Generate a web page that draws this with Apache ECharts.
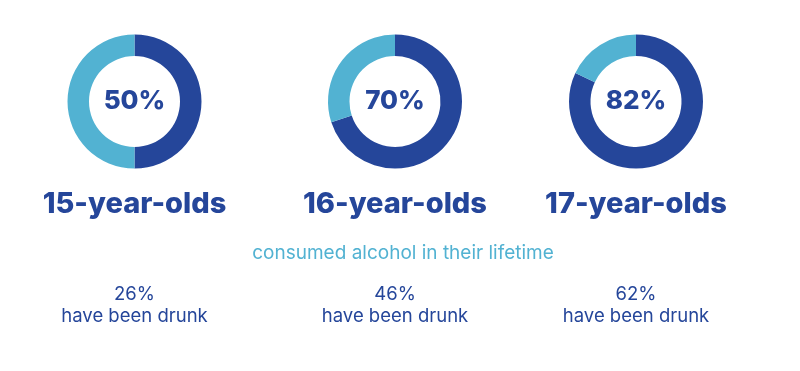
<!DOCTYPE html>
<html><head><meta charset="utf-8">
<script src="https://cdn.jsdelivr.net/npm/echarts@6/dist/echarts.min.js"></script>
<style>html,body{margin:0;padding:0;background:#fff}#c{width:800px;height:371px}</style>
</head><body><div id="c"></div>
<script>
const groups = ['15-year-olds', '16-year-olds', '17-year-olds'];
const consumedPct = [50, 70, 82];
const drunkPct = [26, 46, 62];
const subtitle = 'consumed alcohol in their lifetime';
const drunkText = 'have been drunk';

const DARK = '#25469A';
const LIGHT = '#52B2D2';
const FONT = 'Inter';
const centersX = [134.5, 395, 636];
const cy = 101.5;

const chart = echarts.init(document.getElementById('c'), null, {renderer: 'canvas'});
const series = groups.map((g, i) => ({
  type: 'pie',
  center: [centersX[i], cy],
  radius: [45.5, 67],
  startAngle: 90,
  clockwise: true,
  silent: true,
  animation: false,
  emphasis: {disabled: true},
  label: {show: false},
  labelLine: {show: false},
  data: [
    {value: consumedPct[i], itemStyle: {color: DARK},
     label: {show: true, position: 'center', formatter: consumedPct[i] + '%',
       fontFamily: FONT, fontWeight: 800, fontSize: 26, color: DARK}},
    {value: 100 - consumedPct[i], itemStyle: {color: LIGHT}}
  ]
}));

const graphics = [];
groups.forEach((g, i) => {
  graphics.push({type: 'text', x: centersX[i], y: 204, style: {text: g, fill: DARK,
    font: '800 29px ' + FONT, align: 'center', verticalAlign: 'middle'}});
  graphics.push({type: 'text', x: centersX[i], y: 294, style: {text: drunkPct[i] + '%', fill: DARK,
    font: '400 18.5px ' + FONT, align: 'center', verticalAlign: 'middle'}});
  graphics.push({type: 'text', x: centersX[i], y: 316, style: {text: drunkText, fill: DARK,
    font: '400 18.5px ' + FONT, align: 'center', verticalAlign: 'middle'}});
});
graphics.push({type: 'text', x: 403, y: 253, style: {text: subtitle, fill: LIGHT,
  font: '400 19px ' + FONT, align: 'center', verticalAlign: 'middle'}});

chart.setOption({
  animation: false,
  series: series,
  graphic: graphics
});
</script></body></html>
